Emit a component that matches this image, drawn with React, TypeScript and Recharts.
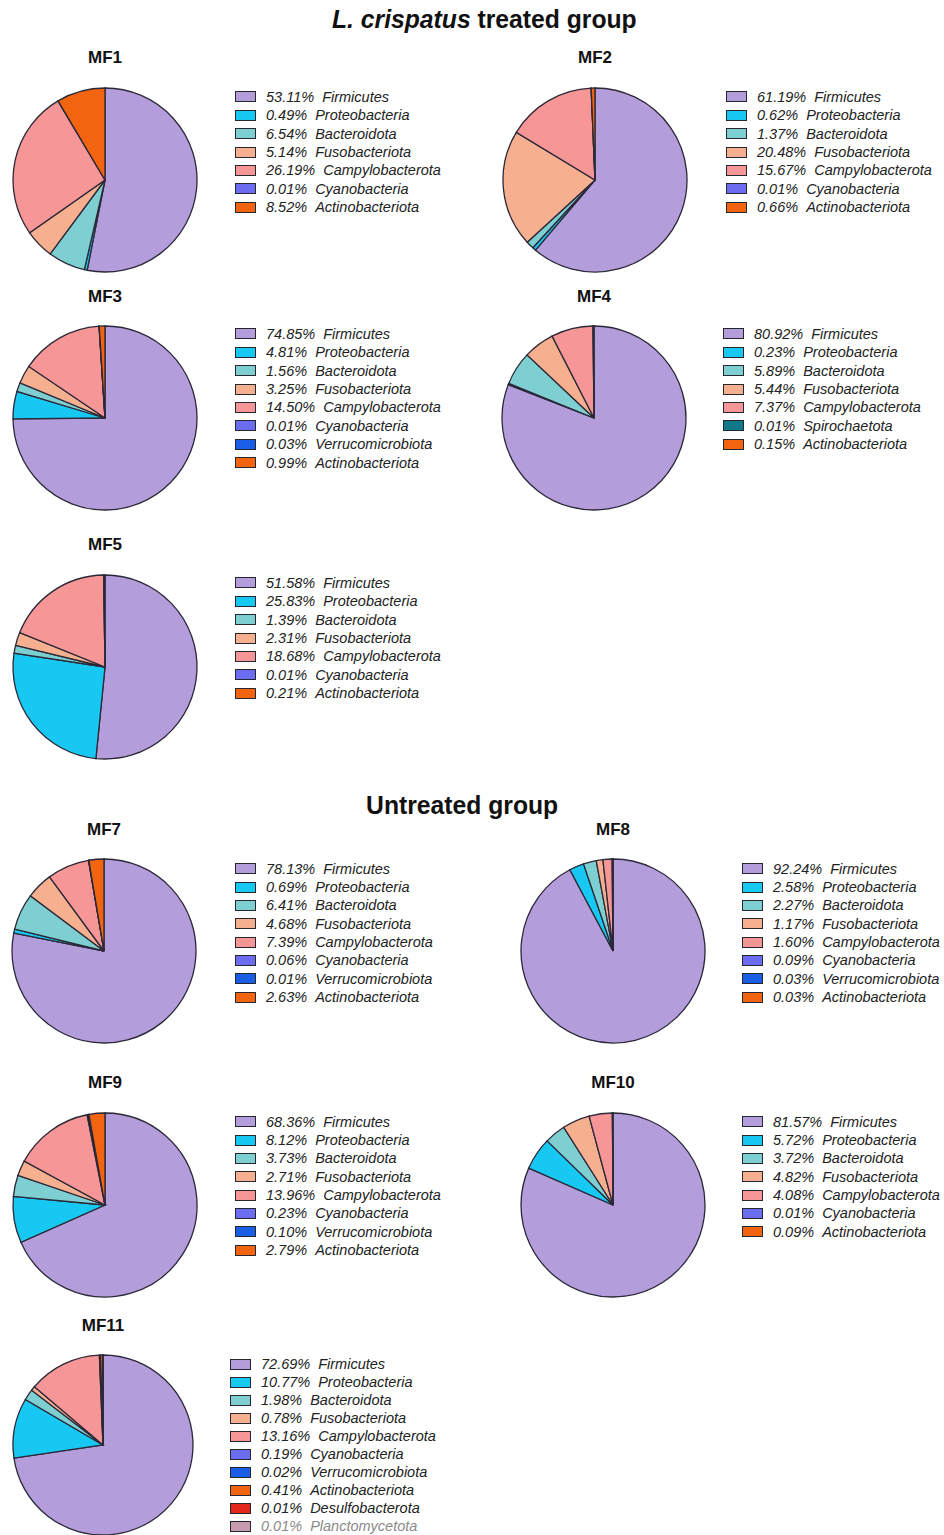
import React from 'react';
import { PieChart, Pie, Cell } from 'recharts';

// ---------- data ----------
const TAXA_COLORS: Record<string, string> = {
  Firmicutes: '#b39ddb',
  Proteobacteria: '#17c9f2',
  Bacteroidota: '#7ecfd2',
  Fusobacteriota: '#f6b08f',
  Campylobacterota: '#f69696',
  Cyanobacteria: '#6c6cf0',
  Verrucomicrobiota: '#1a5ee6',
  Actinobacteriota: '#f2640f',
  Spirochaetota: '#0f7889',
  Desulfobacterota: '#e3261b',
  Planctomycetota: '#c79aae',
};

const BASE7 = ['Firmicutes', 'Proteobacteria', 'Bacteroidota', 'Fusobacteriota', 'Campylobacterota', 'Cyanobacteria', 'Actinobacteriota'];
const BASE8 = ['Firmicutes', 'Proteobacteria', 'Bacteroidota', 'Fusobacteriota', 'Campylobacterota', 'Cyanobacteria', 'Verrucomicrobiota', 'Actinobacteriota'];
const MF4_TAXA = ['Firmicutes', 'Proteobacteria', 'Bacteroidota', 'Fusobacteriota', 'Campylobacterota', 'Spirochaetota', 'Actinobacteriota'];
const MF11_TAXA = ['Firmicutes', 'Proteobacteria', 'Bacteroidota', 'Fusobacteriota', 'Campylobacterota', 'Cyanobacteria', 'Verrucomicrobiota', 'Actinobacteriota', 'Desulfobacterota', 'Planctomycetota'];

const MF1_VALUES = [53.11, 0.49, 6.54, 5.14, 26.19, 0.01, 8.52];
const MF2_VALUES = [61.19, 0.62, 1.37, 20.48, 15.67, 0.01, 0.66];
const MF3_VALUES = [74.85, 4.81, 1.56, 3.25, 14.5, 0.01, 0.03, 0.99];
const MF4_VALUES = [80.92, 0.23, 5.89, 5.44, 7.37, 0.01, 0.15];
const MF5_VALUES = [51.58, 25.83, 1.39, 2.31, 18.68, 0.01, 0.21];
const MF7_VALUES = [78.13, 0.69, 6.41, 4.68, 7.39, 0.06, 0.01, 2.63];
const MF8_VALUES = [92.24, 2.58, 2.27, 1.17, 1.6, 0.09, 0.03, 0.03];
const MF9_VALUES = [68.36, 8.12, 3.73, 2.71, 13.96, 0.23, 0.1, 2.79];
const MF10_VALUES = [81.57, 5.72, 3.72, 4.82, 4.08, 0.01, 0.09];
const MF11_VALUES = [72.69, 10.77, 1.98, 0.78, 13.16, 0.19, 0.02, 0.41, 0.01, 0.01];

const GROUP_TITLES = ['L. crispatus treated group', 'Untreated group'];

// ---------- layout ----------
type Panel = {
  title: string; taxa: string[]; values: number[];
  cx: number; cy: number; r: number; titleY: number; legX: number; legY: number; pitch: number;
};

const PANELS: Panel[] = [
  { title: 'MF1', taxa: BASE7, values: MF1_VALUES, cx: 105, cy: 180, r: 92, titleY: 58, legX: 235, legY: 97, pitch: 18.4 },
  { title: 'MF2', taxa: BASE7, values: MF2_VALUES, cx: 595, cy: 180, r: 92, titleY: 58, legX: 726, legY: 97, pitch: 18.4 },
  { title: 'MF3', taxa: BASE8, values: MF3_VALUES, cx: 105, cy: 418, r: 92, titleY: 297, legX: 235, legY: 334, pitch: 18.4 },
  { title: 'MF4', taxa: MF4_TAXA, values: MF4_VALUES, cx: 594, cy: 418, r: 92, titleY: 297, legX: 723, legY: 334, pitch: 18.4 },
  { title: 'MF5', taxa: BASE7, values: MF5_VALUES, cx: 105, cy: 667, r: 92, titleY: 545, legX: 235, legY: 583, pitch: 18.4 },
  { title: 'MF7', taxa: BASE8, values: MF7_VALUES, cx: 104, cy: 951, r: 92, titleY: 830, legX: 235, legY: 869, pitch: 18.3 },
  { title: 'MF8', taxa: BASE8, values: MF8_VALUES, cx: 613, cy: 951, r: 92, titleY: 830, legX: 742, legY: 869, pitch: 18.3 },
  { title: 'MF9', taxa: BASE8, values: MF9_VALUES, cx: 105, cy: 1205, r: 92, titleY: 1083, legX: 235, legY: 1122, pitch: 18.3 },
  { title: 'MF10', taxa: BASE7, values: MF10_VALUES, cx: 613, cy: 1205, r: 92, titleY: 1083, legX: 742, legY: 1122, pitch: 18.3 },
  { title: 'MF11', taxa: MF11_TAXA, values: MF11_VALUES, cx: 103, cy: 1445, r: 90, titleY: 1326, legX: 230, legY: 1364, pitch: 18.0 },
];

const FONT = '"Liberation Sans", Arial, Helvetica, sans-serif';
const STROKE = '#2b2838';

function PiePanel({ p }: { p: Panel }) {
  const data = p.taxa.map((name, i) => ({ name, value: p.values[i] }));
  const size = 2 * p.r + 12;
  return (
    <>
      <div style={{
        position: 'absolute', left: p.cx - 60, top: p.titleY - 11, width: 120, height: 22,
        textAlign: 'center', fontFamily: FONT, fontWeight: 700, fontSize: 17, lineHeight: '22px', color: '#111',
      }}>{p.title}</div>
      <div style={{ position: 'absolute', left: p.cx - size / 2, top: p.cy - size / 2 }}>
        <PieChart width={size} height={size} margin={{ top: 0, right: 0, bottom: 0, left: 0 }}>
          <Pie
            data={data}
            dataKey="value"
            nameKey="name"
            cx={size / 2}
            cy={size / 2}
            outerRadius={p.r}
            innerRadius={0}
            startAngle={90}
            endAngle={-270}
            stroke={STROKE}
            strokeWidth={1.3}
            isAnimationActive={false}
            label={false}
            labelLine={false}
          >
            {data.map((d) => (
              <Cell key={d.name} fill={TAXA_COLORS[d.name]} stroke={STROKE} />
            ))}
          </Pie>
        </PieChart>
      </div>
      <div style={{ position: 'absolute', left: p.legX, top: p.legY - p.pitch / 2 }}>
        {data.map((d) => (
          <div key={d.name} style={{ display: 'flex', alignItems: 'center', height: p.pitch, whiteSpace: 'nowrap' }}>
            <div style={{
              width: 21, height: 11, boxSizing: 'border-box', border: '1.6px solid #26262f',
              background: TAXA_COLORS[d.name], marginRight: 10, flex: '0 0 auto',
            }} />
            <span style={{
              fontFamily: FONT, fontStyle: 'italic', fontSize: 14.5, lineHeight: `${p.pitch}px`,
              color: d.name === 'Planctomycetota' ? '#8a8a8a' : '#222',
            }}>
              {d.value.toFixed(2)}%<span style={{ marginLeft: 8 }}>{d.name}</span>
            </span>
          </div>
        ))}
      </div>
    </>
  );
}

function GroupTitle({ x, y, children }: { x: number; y: number; children: React.ReactNode }) {
  return (
    <div style={{
      position: 'absolute', left: x - 250, top: y - 16, width: 500, height: 32, textAlign: 'center',
      fontFamily: FONT, fontWeight: 700, fontSize: 26, lineHeight: '32px', color: '#111',
    }}>
      <span style={{ display: 'inline-block', transform: 'scaleX(0.95)' }}>{children}</span>
    </div>
  );
}

export default function App() {
  return (
    <div style={{ position: 'absolute', left: 0, top: 0, width: 944, height: 1535, background: '#fff', overflow: 'hidden' }}>
      <GroupTitle x={484} y={19}>
        <i>{GROUP_TITLES[0].split(' treated')[0]}</i>{' treated group'}
      </GroupTitle>
      <GroupTitle x={462} y={805}>{GROUP_TITLES[1]}</GroupTitle>
      {PANELS.map((p) => <PiePanel key={p.title} p={p} />)}
    </div>
  );
}
